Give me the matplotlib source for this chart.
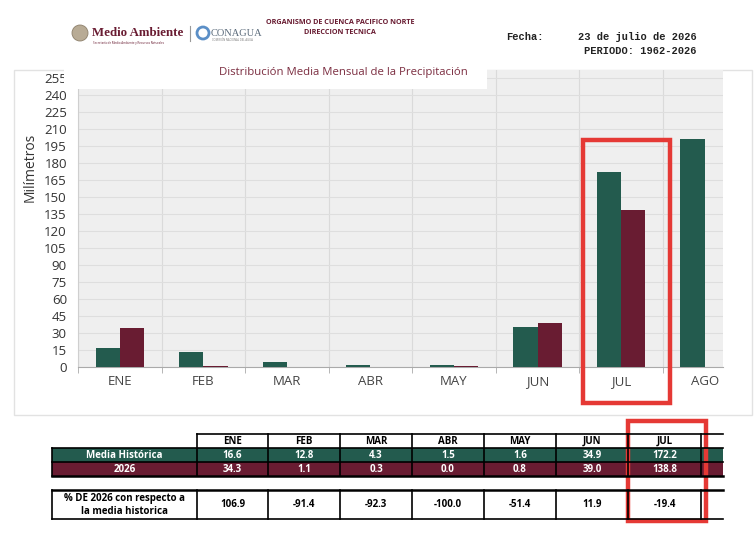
import numpy as np
import matplotlib
matplotlib.use('Agg')
import matplotlib.pyplot as plt
from matplotlib.patches import Rectangle, Circle

# data
months = ['ENE', 'FEB', 'MAR', 'ABR', 'MAY', 'JUN', 'JUL', 'AGO']
media_hist = [16.6, 12.8, 4.3, 1.5, 1.6, 34.9, 172.2, 201.3]
precip_2026 = [34.3, 1.1, 0.3, 0.0, 0.8, 39.0, 138.8]
pct_2026 = [106.9, -91.4, -92.3, -100.0, -51.4, 11.9, -19.4]
yticks = list(range(0, 256, 15))

green = '#235B4E'
maroon = '#691C32'
red = '#E53935'
title_col = '#7B2D40'

plt.rcParams['font.family'] = ['Open Sans', 'DejaVu Sans']

W, H = 755, 535
fig = plt.figure(figsize=(W / 100, H / 100), dpi=100)

def box(x0, y0, x1, y1):
    # pixel box (top-left origin) -> figure fraction rect
    return [x0 / W, 1 - y1 / H, (x1 - x0) / W, (y1 - y0) / H]

# background layer (panel frame)
bg = fig.add_axes([0, 0, 1, 1], zorder=0)
bg.set_xlim(0, W); bg.set_ylim(H, 0); bg.axis('off')
bg.add_patch(Rectangle((14, 70), 738, 345, fill=False, ec='#e2e2e2', lw=1))

# chart
ax = fig.add_axes(box(78, 70, 723, 367), zorder=1)
x = np.arange(len(months))
w = 0.29
ax.bar(x - w / 2, media_hist, w, color=green, zorder=3)
ax.bar(x[:len(precip_2026)] + w / 2, precip_2026, w, color=maroon, zorder=3)
ax.set_facecolor('#efefef')
ax.set_yticks(yticks)
ax.set_xticks(x)
ax.set_xticklabels(months)
ax.set_xticks(np.arange(-0.5, len(months), 1), minor=True)
ax.set_xlim(-0.5, 7.22)  # set after ticks, otherwise the minor ticks widen it
ax.set_ylim(0, 262)
ax.grid(axis='y', color='#dedede', lw=0.8, zorder=0)
ax.grid(axis='x', which='minor', color='#dadada', lw=0.8, zorder=0)
ax.tick_params(axis='y', length=0, pad=8, labelsize=9.5, labelcolor='#333333')
ax.tick_params(axis='x', which='major', length=0, pad=6, labelsize=9.5, labelcolor='#444444')
ax.tick_params(axis='x', which='minor', length=4, color='#aaaaaa')
for s in ['top', 'right']:
    ax.spines[s].set_visible(False)
ax.spines['left'].set_color('#cfcfcf')
ax.spines['bottom'].set_color('#aaaaaa')
fig.text(30 / W, 1 - 167 / H, 'Milímetros', rotation=90, ha='center', va='center',
         fontsize=10, color='#333333')

# overlay layer: header, title box, table, highlight boxes
ov = fig.add_axes([0, 0, 1, 1], zorder=5)
ov.set_xlim(0, W); ov.set_ylim(H, 0); ov.axis('off')
ov.patch.set_alpha(0)

# title box
ov.add_patch(Rectangle((64, 55), 423, 34, fc='white', ec='none'))
ov.text(343, 73, 'Distribución Media Mensual de la Precipitación', ha='center', va='center',
        fontsize=8.2, color=title_col)

# header logos
ov.add_patch(Circle((80, 33), 8, fc='#b8ab95', ec='#8c7f6a', lw=0.6))
ov.text(92, 33, 'Medio Ambiente', ha='left', va='center', fontsize=9.3, fontweight='bold',
        family='Liberation Serif', color=maroon)
ov.text(93, 43, 'Secretaría de Medio Ambiente y Recursos Naturales', ha='left', va='center',
        fontsize=2.2, color=maroon)
ov.plot([190, 190], [26, 41], color='#999999', lw=0.8)
ov.add_patch(Circle((203, 33), 6, fc='none', ec='#5b8fc7', lw=2))
ov.text(211, 33, 'CONAGUA', ha='left', va='center', fontsize=7.5,
        family='Liberation Serif', color='#5a6a7a')
ov.text(212, 40, 'COMISIÓN NACIONAL DEL AGUA', ha='left', va='center', fontsize=2, color='#777777')
ov.text(340, 22, 'ORGANISMO DE CUENCA PACIFICO NORTE', ha='center', va='center',
        fontsize=5.2, fontweight='bold', color=maroon)
ov.text(340, 32, 'DIRECCION TECNICA', ha='center', va='center',
        fontsize=5.2, fontweight='bold', color=maroon)
mono = dict(family='Liberation Mono', fontweight='bold', fontsize=7.5, color='#222222', va='center')
ov.text(506, 37, 'Fecha:', ha='left', **mono)
ov.text(697, 37, '23 de julio de 2026', ha='right', **mono)
ov.text(697, 51, 'PERIODO: 1962-2026', ha='right', **mono)

# table
col_edges = [197, 268, 340, 412, 484, 556, 628, 701]
lab_x0 = 52
right_end = 723
r_head = (434, 448)
r_media = (448, 462)
r_2026 = (462, 476)
r_pct = (490, 519)
tfont = dict(ha='center', va='center', fontsize=7, fontweight='bold')

# filled rows
ov.add_patch(Rectangle((lab_x0, r_media[0]), right_end - lab_x0, r_media[1] - r_media[0], fc=green, ec='none'))
ov.add_patch(Rectangle((lab_x0, r_2026[0]), right_end - lab_x0, r_2026[1] - r_2026[0], fc=maroon, ec='none'))
ov.add_patch(Rectangle((lab_x0, r_pct[0]), right_end - lab_x0, r_pct[1] - r_pct[0], fc='white', ec='none'))

ov.text((lab_x0 + col_edges[0]) / 2, sum(r_media) / 2, 'Media Histórica', color='white', **tfont)
ov.text((lab_x0 + col_edges[0]) / 2, sum(r_2026) / 2, '2026', color='white', **tfont)
ov.text((lab_x0 + col_edges[0]) / 2, 498, '% DE 2026 con respecto a', color='black', **tfont)
ov.text((lab_x0 + col_edges[0]) / 2, 512, 'la media historica', color='black', **tfont)

for i in range(len(col_edges) - 1):
    cx = (col_edges[i] + col_edges[i + 1]) / 2
    ov.text(cx, sum(r_head) / 2, months[i], color='black', **tfont)
    ov.text(cx, sum(r_media) / 2, f'{media_hist[i]:.1f}', color='white', **tfont)
    ov.text(cx, sum(r_2026) / 2, f'{precip_2026[i]:.1f}', color='white', **tfont)
    ov.text(cx, sum(r_pct) / 2, f'{pct_2026[i]:.1f}', color='black', **tfont)

# grid lines of table
lk = dict(color='black', lw=1.2)
ov.plot([col_edges[0], right_end], [r_head[0]] * 2, **lk)
ov.plot([lab_x0, right_end], [r_media[0]] * 2, **lk)
ov.plot([lab_x0, right_end], [r_2026[0]] * 2, **lk)
ov.plot([lab_x0, right_end], [r_2026[1]] * 2, color='black', lw=1.8)
ov.plot([lab_x0, lab_x0], [r_media[0], r_2026[1]], **lk)
for e in col_edges:
    ov.plot([e, e], [r_head[0], r_2026[1]], **lk)
ov.plot([lab_x0, right_end], [r_pct[0]] * 2, color='black', lw=1.8)
ov.plot([lab_x0, right_end], [r_pct[1]] * 2, **lk)
for e in [lab_x0] + col_edges:
    ov.plot([e, e], [r_pct[0], r_pct[1]], **lk)

# red highlight boxes
ov.add_patch(Rectangle((583, 140), 87, 263, fill=False, ec=red, lw=3.2))
ov.add_patch(Rectangle((628, 421), 78, 100, fill=False, ec=red, lw=3.2))

fig.savefig('out.png', dpi=100)
